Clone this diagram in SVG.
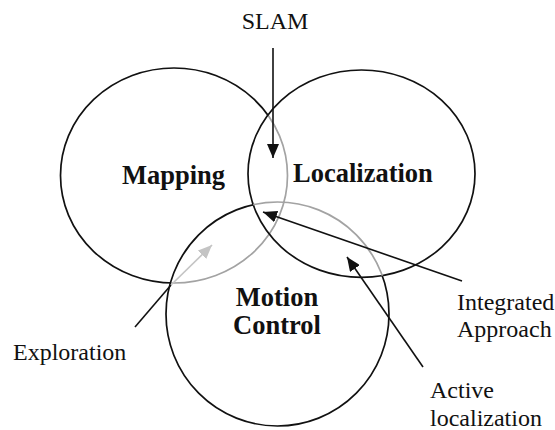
<svg xmlns="http://www.w3.org/2000/svg" width="555" height="430" viewBox="0 0 555 430">
<style>
.c{fill:none;stroke-width:1.7}
.blk{stroke:#111}
.gry{stroke:#a3a3a3}
.t{font-family:"Liberation Serif","Times New Roman",serif;font-size:24px;fill:#111}
.b{font-family:"Liberation Serif","Times New Roman",serif;font-size:26.5px;font-weight:bold;fill:#111}
.ln{stroke:#111;stroke-width:1.6;fill:none}
</style>
<defs>
<marker id="ah" viewBox="0 0 14 12" refX="14" refY="6" markerWidth="14" markerHeight="12" markerUnits="userSpaceOnUse" orient="auto">
<path d="M0,0 L14,6 L0,12 Z" fill="#111"/>
</marker>
<marker id="ahg" viewBox="0 0 14 12" refX="14" refY="6" markerWidth="14" markerHeight="12" markerUnits="userSpaceOnUse" orient="auto">
<path d="M0,0 L14,6 L0,12 Z" fill="#c4c4c4"/>
</marker>
<clipPath id="cLoc"><ellipse cx="361.5" cy="173.7" rx="113.5" ry="103.7"/></clipPath>
<clipPath id="cMCLoc"><ellipse cx="361.5" cy="173.7" rx="113.5" ry="103.7"/><ellipse cx="277.5" cy="314" rx="111.5" ry="112"/></clipPath>
<mask id="mOutLoc" maskUnits="userSpaceOnUse" x="0" y="0" width="555" height="430"><rect width="555" height="430" fill="#fff"/><ellipse cx="361.5" cy="173.7" rx="113.5" ry="103.7" fill="#000"/></mask>
<mask id="mOutMCLoc" maskUnits="userSpaceOnUse" x="0" y="0" width="555" height="430"><rect width="555" height="430" fill="#fff"/><ellipse cx="361.5" cy="173.7" rx="113.5" ry="103.7" fill="#000"/><ellipse cx="277.5" cy="314" rx="111.5" ry="112" fill="#000"/></mask>
</defs>
<rect width="555" height="430" fill="#fff"/>
<g id="mapping">
<ellipse class="c blk" cx="174" cy="175.5" rx="113.5" ry="107.5" mask="url(#mOutMCLoc)"/>
<ellipse class="c gry" cx="174" cy="175.5" rx="113.5" ry="107.5" clip-path="url(#cMCLoc)"/>
<text class="b" x="122" y="184">Mapping</text>
</g>
<g id="localization">
<ellipse class="c blk" cx="361.5" cy="173.7" rx="113.5" ry="103.7"/>
<text class="b" x="293" y="182">Localization</text>
</g>
<g id="motion-control">
<ellipse class="c blk" cx="277.5" cy="314" rx="111.5" ry="112" mask="url(#mOutLoc)"/>
<ellipse class="c gry" cx="277.5" cy="314" rx="111.5" ry="112" clip-path="url(#cLoc)"/>
<text class="b" x="277" y="306" text-anchor="middle">Motion</text>
<text class="b" x="277" y="334" text-anchor="middle">Control</text>
</g>
<g id="labels">
<text class="t" x="275" y="29" text-anchor="middle">SLAM</text>
<text class="t" x="13" y="360">Exploration</text>
<text class="t" x="457" y="310">Integrated</text>
<text class="t" x="457" y="337">Approach</text>
<text class="t" x="430" y="398">Active</text>
<text class="t" x="430" y="426">localization</text>
</g>
<g id="connectors">
<line class="ln" x1="273" y1="48" x2="273" y2="158" marker-end="url(#ah)"/>
<line class="ln" x1="462" y1="281" x2="263" y2="212" marker-end="url(#ah)"/>
<line class="ln" x1="423" y1="367" x2="347" y2="257" marker-end="url(#ah)"/>
<line class="ln" x1="135" y1="327" x2="171" y2="285"/>
<line x1="171" y1="285" x2="212" y2="245" stroke="#c4c4c4" stroke-width="1.6" marker-end="url(#ahg)"/>
</g>
</svg>
